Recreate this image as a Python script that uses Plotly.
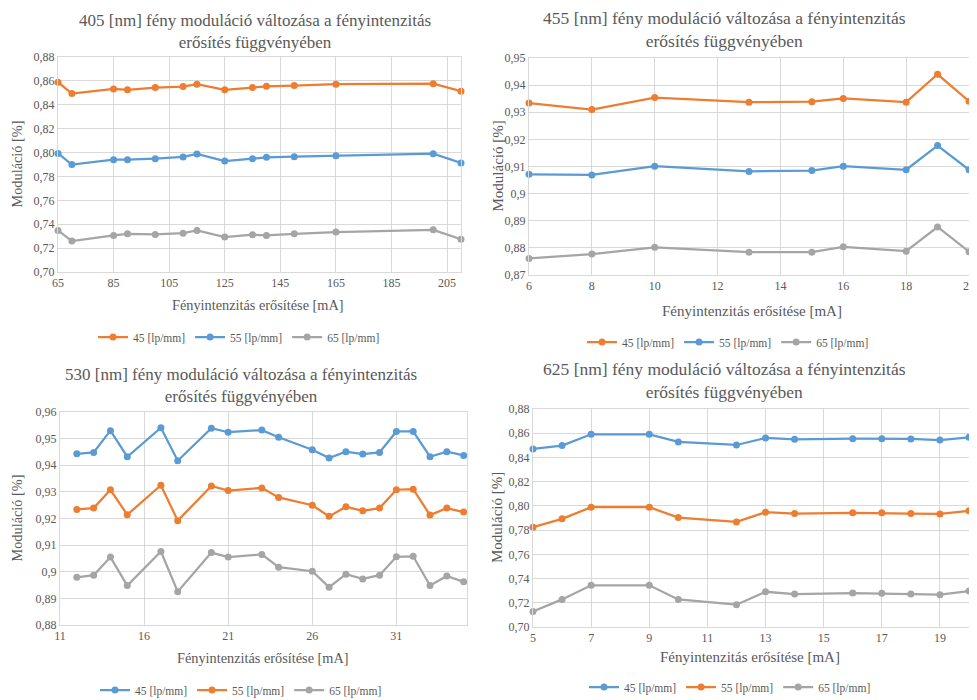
import plotly.graph_objects as go

ORANGE = "#ED7D31"
BLUE = "#5B9BD5"
GRAY = "#A5A5A5"
TXT = "#595959"
GRID = "#D9D9D9"
FONT = "Liberation Serif"

series_names = ["45 [lp/mm]", "55 [lp/mm]", "65 [lp/mm]"]

# 405 nm
x405 = [65, 70, 85, 90, 100, 110, 115, 125, 135, 140, 150, 165, 200, 210]
y405_45 = [0.8589, 0.8494, 0.8533, 0.8525, 0.8544, 0.8552, 0.8572, 0.8525, 0.8544, 0.8555, 0.8561, 0.8572, 0.8577, 0.8513]
y405_55 = [0.7993, 0.7899, 0.7940, 0.7940, 0.7949, 0.7963, 0.7988, 0.7929, 0.7949, 0.7960, 0.7965, 0.7974, 0.7990, 0.7913]
y405_65 = [0.7348, 0.7259, 0.7306, 0.7320, 0.7314, 0.7325, 0.7348, 0.7292, 0.7312, 0.7306, 0.7320, 0.7334, 0.7353, 0.7275]

# 455 nm
x455 = [6, 8, 10, 13, 15, 16, 18, 19, 20]
y455_45 = [0.9334, 0.9310, 0.9354, 0.9337, 0.9339, 0.9351, 0.9337, 0.9440, 0.9341]
y455_55 = [0.9071, 0.9069, 0.9101, 0.9082, 0.9085, 0.9101, 0.9088, 0.9177, 0.9088]
y455_65 = [0.8761, 0.8777, 0.8802, 0.8784, 0.8784, 0.8804, 0.8788, 0.8877, 0.8786]

# 530 nm
x530 = [12, 13, 14, 15, 17, 18, 20, 21, 23, 24, 26, 27, 28, 29, 30, 31, 32, 33, 34, 35]
y530_45 = [0.9443, 0.9448, 0.9530, 0.9432, 0.9541, 0.9417, 0.9539, 0.9524, 0.9532, 0.9505,
           0.9458, 0.9427, 0.9451, 0.9442, 0.9448, 0.9527, 0.9527, 0.9432, 0.9451, 0.9437]
y530_55 = [0.9234, 0.9239, 0.9308, 0.9214, 0.9325, 0.9192, 0.9322, 0.9305, 0.9315, 0.9279,
           0.9250, 0.9208, 0.9244, 0.9229, 0.9239, 0.9308, 0.9310, 0.9213, 0.9239, 0.9224]
y530_65 = [0.8979, 0.8987, 0.9055, 0.8948, 0.9076, 0.8925, 0.9072, 0.9055, 0.9065, 0.9017,
           0.9002, 0.8942, 0.8991, 0.8973, 0.8987, 0.9056, 0.9058, 0.8948, 0.8984, 0.8962]

# 625 nm
x625 = [5, 6, 7, 9, 10, 12, 13, 14, 16, 17, 18, 19, 20]
y625_45 = [0.8470, 0.8498, 0.8591, 0.8591, 0.8528, 0.8503, 0.8561, 0.8550, 0.8555, 0.8555, 0.8553, 0.8544, 0.8566]
y625_55 = [0.7824, 0.7893, 0.7989, 0.7989, 0.7904, 0.7868, 0.7948, 0.7937, 0.7943, 0.7943, 0.7937, 0.7934, 0.7959]
y625_65 = [0.7129, 0.7228, 0.7344, 0.7344, 0.7228, 0.7184, 0.7291, 0.7272, 0.7280, 0.7278, 0.7272, 0.7267, 0.7297]

titles = [
    "405 [nm] fény moduláció változása a fényintenzitás<br>erősítés függvényében",
    "455 [nm] fény moduláció változása a fényintenzitás<br>erősítés függvényében",
    "530 [nm] fény moduláció változása a fényintenzitás<br>erősítés függvényében",
    "625 [nm] fény moduláció változása a fényintenzitás<br>erősítés függvényében",
]
xtitle = "Fényintenzitás erősítése [mA]"
ytitle = "Moduláció [%]"

# page body has an 8px margin; the figure is placed at (8, 8)
OFF = 8
W, H = 977 - OFF, 700 - OFF


def fx(px):
    return (px - OFF) / W


def fy(py):
    return 1 - (py - OFF) / H


panels = [
    dict(x=x405, ys=[y405_45, y405_55, y405_65], colors=[ORANGE, BLUE, GRAY],
         px=(58, 461), py=(57, 272), xr=[65, 210], x0=65, dx=20, yr=[0.70, 0.88], dy=0.02, yfmt=".2f",
         title_xy=(255, 31), tsize=17, xt_xy=(258, 305), xsize=14.3, yt_x=16, leg_xy=(239, 337)),
    dict(x=x455, ys=[y455_45, y455_55, y455_65], colors=[ORANGE, BLUE, GRAY],
         px=(529, 969), py=(58, 275), xr=[6, 20], x0=6, dx=2, yr=[0.87, 0.95], dy=0.01, yfmt="",
         title_xy=(724, 29.5), tsize=17.5, xt_xy=(752, 311), xsize=15, yt_x=497, leg_xy=(728, 342)),
    dict(x=x530, ys=[y530_45, y530_55, y530_65], colors=[BLUE, ORANGE, GRAY],
         px=(60, 467), py=(412, 625), xr=[11, 35.2], x0=11, dx=5, yr=[0.88, 0.96], dy=0.01, yfmt="",
         title_xy=(241, 385), tsize=17, xt_xy=(263, 658), xsize=14.3, yt_x=16, leg_xy=(241, 690)),
    dict(x=x625, ys=[y625_45, y625_55, y625_65], colors=[BLUE, ORANGE, GRAY],
         px=(533, 969), py=(409, 627), xr=[5, 20], x0=5, dx=2, yr=[0.70, 0.88], dy=0.02, yfmt=".2f",
         title_xy=(724, 380), tsize=17.5, xt_xy=(750, 657), xsize=15, yt_x=497, leg_xy=(730, 687)),
]

fig = go.Figure()
annotations = []
layout = {}

for i, p in enumerate(panels):
    n = i + 1
    xa = "x" if n == 1 else f"x{n}"
    ya = "y" if n == 1 else f"y{n}"
    leg = "legend" if n == 1 else f"legend{n}"
    for name, yv, col in zip(series_names, p["ys"], p["colors"]):
        fig.add_trace(go.Scatter(
            x=p["x"], y=yv, name=name, mode="lines+markers",
            line=dict(color=col, width=2.25),
            marker=dict(color=col, size=7),
            xaxis=xa, yaxis=ya, legend=leg, cliponaxis=False,
        ))
    xkey = "xaxis" if n == 1 else f"xaxis{n}"
    ykey = "yaxis" if n == 1 else f"yaxis{n}"
    layout[xkey] = dict(
        domain=[fx(p["px"][0]), fx(p["px"][1])], anchor=ya, automargin=False,
        range=p["xr"], tick0=p["x0"], dtick=p["dx"], tickmode="linear",
        showgrid=True, gridcolor=GRID, gridwidth=1, zeroline=False,
        showline=True, linecolor=GRID, linewidth=1, mirror=True,
        ticks="", tickfont=dict(family=FONT, size=12, color=TXT),
    )
    layout[ykey] = dict(
        domain=[fy(p["py"][1]), fy(p["py"][0])], anchor=xa, automargin=False,
        range=p["yr"], tick0=p["yr"][0], dtick=p["dy"], tickmode="linear",
        tickformat=p["yfmt"],
        showgrid=True, gridcolor=GRID, gridwidth=1, zeroline=False,
        showline=True, linecolor=GRID, linewidth=1, mirror=True,
        ticks="", tickfont=dict(family=FONT, size=12, color=TXT),
    )
    layout[leg] = dict(
        orientation="h", x=fx(p["leg_xy"][0]), y=fy(p["leg_xy"][1]),
        xanchor="center", yanchor="middle",
        font=dict(family=FONT, size=11.5, color=TXT),
        bgcolor="rgba(0,0,0,0)", itemwidth=30, tracegroupgap=0,
    )
    annotations.append(dict(
        text=titles[i], x=fx(p["title_xy"][0]), y=fy(p["title_xy"][1]),
        xref="paper", yref="paper", showarrow=False, xanchor="center", yanchor="middle",
        font=dict(family=FONT, size=p["tsize"], color=TXT),
    ))
    annotations.append(dict(
        text=xtitle, x=fx(p["xt_xy"][0]), y=fy(p["xt_xy"][1]),
        xref="paper", yref="paper", showarrow=False, xanchor="center", yanchor="middle",
        font=dict(family=FONT, size=p["xsize"], color=TXT),
    ))
    ymid = (p["py"][0] + p["py"][1]) / 2
    annotations.append(dict(
        text=ytitle, x=fx(p["yt_x"]), y=fy(ymid), textangle=-90,
        xref="paper", yref="paper", showarrow=False, xanchor="center", yanchor="middle",
        font=dict(family=FONT, size=p["xsize"], color=TXT),
    ))

fig.update_layout(
    width=W, height=H, margin=dict(l=0, r=0, t=0, b=0, autoexpand=False),
    paper_bgcolor="white", plot_bgcolor="white",
    font=dict(family=FONT, color=TXT),
    separators=", ", annotations=annotations, **layout,
)

fig.write_html("out.html")
